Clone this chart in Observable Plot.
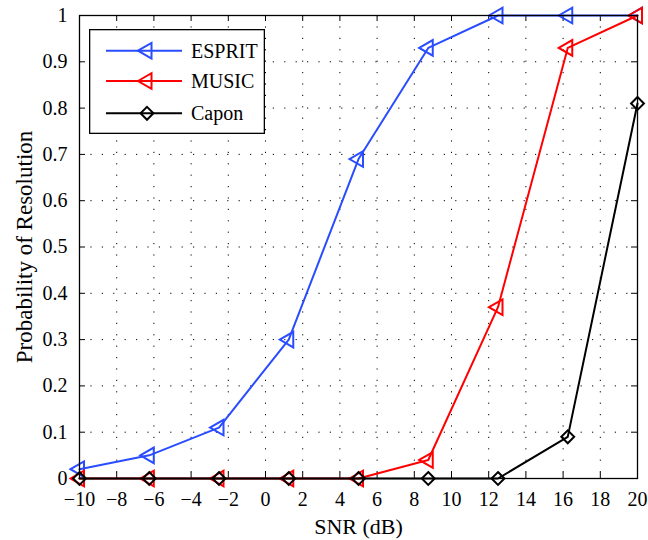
<!DOCTYPE html>
<html><head><meta charset="utf-8">
<script src="https://cdn.jsdelivr.net/npm/d3@7"></script>
<script src="https://cdn.jsdelivr.net/npm/@observablehq/plot@0.6"></script>
<style>
body{margin:0;background:#fff;}
#wrap{position:relative;width:648px;height:540px;font-family:"Liberation Serif","Times New Roman",serif;}
#wrap svg, #wrap svg text{font-family:"Liberation Serif","Times New Roman",serif !important;}
#legend{position:absolute;left:89px;top:29px;}
</style></head><body><div id="wrap"></div>
<script>
// ---- data ----
const snr = [-10, -6.25, -2.5, 1.25, 5, 8.75, 12.5, 16.25, 20];
const esprit = [0.02, 0.05, 0.11, 0.30, 0.69, 0.93, 1, 1, 1];
const music = [0, 0, 0, 0, 0, 0.04, 0.37, 0.93, 1];
const capon = [0, 0, 0, 0, 0, 0, 0, 0.09, 0.81];
const seriesNames = ["ESPRIT", "MUSIC", "Capon"];
const xTicks = [-10, -8, -6, -4, -2, 0, 2, 4, 6, 8, 10, 12, 14, 16, 18, 20];
const yTicks = [0, 0.1, 0.2, 0.3, 0.4, 0.5, 0.6, 0.7, 0.8, 0.9, 1];
const xLabel = "SNR (dB)";
const yLabel = "Probability of Resolution";

// ---- styling ----
const serif = "Liberation Serif";
const colors = {ESPRIT: "#2a4cff", MUSIC: "#ff0000", Capon: "#000000"};
const symbols = {ESPRIT: "triangle", MUSIC: "triangle", Capon: "diamond2"};
const W = 648, H = 540;
const mL = 79, mR = 11, mT = 15, mB = 62;
const innerW = W - mL - mR, innerH = H - mT - mB;

const valuesBySeries = {ESPRIT: esprit, MUSIC: music, Capon: capon};
const table = seriesNames.flatMap(s => snr.map((x, i) => ({series: s, x, y: valuesBySeries[s][i]})));

const fmt = d3.format("");
const seriesMarks = seriesNames.flatMap(s => {
  const d = table.filter(r => r.series === s);
  return [
    Plot.line(d, {x: "x", y: "y", stroke: colors[s], strokeWidth: 2}),
    Plot.dot(d, {x: "x", y: "y", stroke: colors[s], strokeWidth: 2, fill: "none",
      symbol: symbols[s], r: 5.8, rotate: s === "Capon" ? 0 : -90})
  ];
});

const grid = {stroke: "#000", strokeOpacity: 1, strokeWidth: 1, strokeDasharray: "1.2,10.2"};
const chart = Plot.plot({
  width: W, height: H,
  marginLeft: mL, marginRight: mR, marginTop: mT, marginBottom: mB,
  style: {fontFamily: serif, fontSize: "20px", color: "#000", background: "#fff"},
  x: {domain: [-10, 20]},
  y: {domain: [0, 1]},
  marks: [
    Plot.gridX(xTicks, grid),
    Plot.gridY(yTicks, grid),
    Plot.tickX(xTicks, {x: d => d, stroke: "#000", insetTop: innerH - 6}),
    Plot.tickX(xTicks, {x: d => d, stroke: "#000", insetBottom: innerH - 6}),
    Plot.tickY(yTicks, {y: d => d, stroke: "#000", insetRight: innerW - 6}),
    Plot.tickY(yTicks, {y: d => d, stroke: "#000", insetLeft: innerW - 6}),
    Plot.axisX(xTicks, {tickSize: 0, tickPadding: 13, tickFormat: fmt, label: null, fontSize: 20, fontFamily: serif}),
    Plot.axisY(yTicks, {tickSize: 0, tickPadding: 12, tickFormat: fmt, label: null, fontSize: 20, fontFamily: serif}),
    Plot.text([xLabel], {text: d => d, frameAnchor: "bottom", dy: 55, lineAnchor: "bottom", fontSize: 22, fontFamily: serif}),
    Plot.text([yLabel], {text: d => d, frameAnchor: "left", textAnchor: "middle", dx: -55, rotate: -90, fontSize: 23, fontFamily: serif}),
    ...seriesMarks,
    Plot.frame({stroke: "#000", strokeWidth: 1.3})
  ]
});
const wrap = document.getElementById("wrap");
wrap.appendChild(chart);

// ---- legend ----
const lw = 176, lh = 105;
const leg = d3.select(wrap).append("svg").attr("id", "legend").attr("width", lw).attr("height", lh);
leg.append("rect").attr("x", 0.65).attr("y", 0.65).attr("width", lw - 1.3).attr("height", lh - 1.3)
  .attr("fill", "#fff").attr("stroke", "#000").attr("stroke-width", 1.3);
const rowY = [21.7, 52, 84.3];
seriesNames.forEach((s, i) => {
  const g = leg.append("g").attr("transform", `translate(0,${rowY[i]})`);
  g.append("line").attr("x1", 17).attr("x2", 93).attr("stroke", colors[s]).attr("stroke-width", 2);
  const sym = s === "Capon" ? d3.symbolDiamond2 : d3.symbolTriangle;
  g.append("path").attr("d", d3.symbol(sym, Math.PI * 5.8 * 5.8)())
    .attr("transform", `translate(58,0) rotate(${s === "Capon" ? 0 : -90})`)
    .attr("fill", "none").attr("stroke", colors[s]).attr("stroke-width", 2);
  g.append("text").attr("x", 102).attr("dy", "0.35em").attr("font-size", 20).text(s);
});
</script>
</body></html>
